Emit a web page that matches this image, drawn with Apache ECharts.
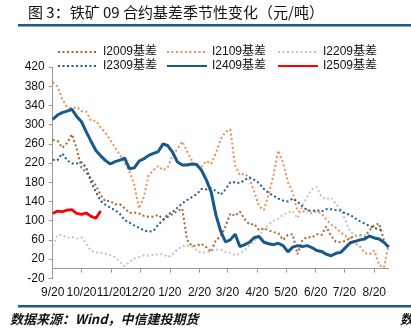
<!DOCTYPE html>
<html><head><meta charset="utf-8">
<script src="https://cdn.jsdelivr.net/npm/echarts@6/dist/echarts.min.js"></script>
<style>html,body{margin:0;padding:0;background:#fff}#c{width:411px;height:335px}</style>
</head><body><div id="c"></div>
<script>
// x axis: daily categories from 9/20; values sampled every 5 days
const startYear = 2023, startMonth = 8, startDay = 20, dayCount = 351;
const monthTicks = ['9/20','10/20','11/20','12/20','1/20','2/20','3/20','4/20','5/20','6/20','7/20','8/20'];
const dayStep = 5;
const seriesNames = ['I2009基差','I2109基差','I2209基差','I2309基差','I2409基差','I2509基差'];

const i2009 = [268,266,252,262,280,250,210,200,188,173,153,140,141,134,134,126,116,117,115,110,108,108,112,103,108,114,120,125,60,47,48,52,45,35,60,67,88,115,110,119,103,92,93,80,84,80,76,74,60,70,72,30,60,66,65,72,70,88,68,56,55,58,64,68,70,67,80,90,94,60];
const i2109 = [388,380,352,337,334,337,328,327,308,308,294,283,268,252,237,220,202,175,125,150,195,205,214,205,212,236,250,265,244,225,213,213,224,218,240,270,285,290,215,195,198,188,160,130,122,155,195,246,220,180,158,120,118,122,115,120,115,102,92,85,76,68,63,53,46,33,30,38,8,2,50];
const i2209 = [48,70,70,64,66,63,65,52,37,34,33,31,28,24,14,5,14,21,24,28,27,29,30,30,24,30,40,47,48,46,38,33,34,37,40,40,34,33,28,32,39,49,58,68,82,92,100,105,112,117,120,105,130,150,165,170,150,145,148,135,124,100,77,70,68,70,72];
const i2309 = [227,226,240,226,219,219,222,210,180,160,141,133,127,122,114,101,96,90,85,80,77,79,92,101,113,118,127,136,143,149,155,166,165,167,162,154,165,180,180,178,185,190,185,178,166,158,152,146,142,140,146,140,130,122,120,122,119,124,124,122,121,115,112,105,99,94,89,85,82,79];
const i2409 = [311,320,325,328,332,317,306,285,265,246,235,225,218,223,226,230,208,210,224,229,236,240,244,260,256,242,222,216,216,218,217,205,185,160,112,78,56,60,72,46,50,55,65,67,55,52,50,53,48,35,45,48,46,48,44,38,36,30,27,32,34,44,54,57,60,62,68,64,62,55,45];
const i2509 = [115,120,119,122,123,115,113,116,109,105,120];

const categories = [];
for (let i = 0; i < dayCount; i++) {
  const d = new Date(startYear, startMonth, startDay + i);
  categories.push((d.getMonth() + 1) + '/' + d.getDate());
}
const toPairs = arr => arr.map((v, k) => [k * dayStep, v]);

const F = "'Liberation Sans','Noto Sans CJK SC',sans-serif";
const dotted = [2, 2.5];
const styles = [
  {color:'#A8672F', width:2, type:dotted},
  {color:'#F58B57', width:2, type:dotted},
  {color:'#C4C4C4', width:2, type:dotted},
  {color:'#1F5E8E', width:2, type:dotted},
  {color:'#16598A', width:3, type:'solid'},
  {color:'#FF0000', width:2.8, type:'solid'}
];
const dataSets = [i2009, i2109, i2209, i2309, i2409, i2509];
const legendPos = [[57,46],[166,46],[277,46],[57,60],[166,60],[277,60]];

const chart = echarts.init(document.getElementById('c'), null, {renderer:'canvas'});
chart.setOption({
  animation: false,
  backgroundColor: '#fff',
  graphic: [
    {type:'text', left:28, top:5, style:{text:'图 3：铁矿 09 合约基差季节性变化（元/吨）', font:"15px 'Noto Sans CJK SC'", fill:'#111'}},
    {type:'rect', shape:{x:18, y:24, width:393, height:2.5}, style:{fill:'#1F5B8A'}},
    {type:'rect', shape:{x:18, y:305, width:393, height:2.5}, style:{fill:'#1F5B8A'}},
    {type:'text', left:10, top:313, style:{text:'数据来源：Wind，中信建投期货', font:"italic bold 13px 'Noto Sans CJK SC'", fill:'#111'}},
    {type:'text', left:400, top:313, style:{text:'数', font:"italic bold 13px 'Noto Sans CJK SC'", fill:'#111'}}
  ],
  legend: seriesNames.map((n, k) => ({
    data:[n], left:legendPos[k][0], top:legendPos[k][1], itemWidth:40, itemHeight:10, itemGap:0, padding:0,
    itemStyle:{opacity:0},
    textStyle:{fontFamily:F, fontSize:12, color:'#111'}
  })),
  grid: {left:52.7, right:22.3, top:67, bottom:56.7, containLabel:false},
  xAxis: {
    type:'category', data:categories, boundaryGap:false,
    axisLine:{lineStyle:{color:'#999', width:1}},
    axisTick:{interval:(i, v) => monthTicks.includes(v), length:4, lineStyle:{color:'#999'}},
    axisLabel:{interval:(i, v) => monthTicks.includes(v), fontFamily:F, fontSize:12, color:'#111', margin:8},
    splitLine:{show:false}
  },
  yAxis: {
    type:'value', min:-20, max:420, interval:40,
    axisLine:{show:true, lineStyle:{color:'#999', width:1}},
    axisTick:{show:true, length:4, lineStyle:{color:'#999'}},
    axisLabel:{fontFamily:F, fontSize:12, color:'#111', margin:8},
    splitLine:{show:false}
  },
  series: seriesNames.map((n, k) => ({
    name:n, type:'line', data:toPairs(dataSets[k]), symbol:'none', showSymbol:false,
    lineStyle:styles[k], itemStyle:{color:styles[k].color}, z: k === 4 ? 5 : 2
  }))
});
</script></body></html>
